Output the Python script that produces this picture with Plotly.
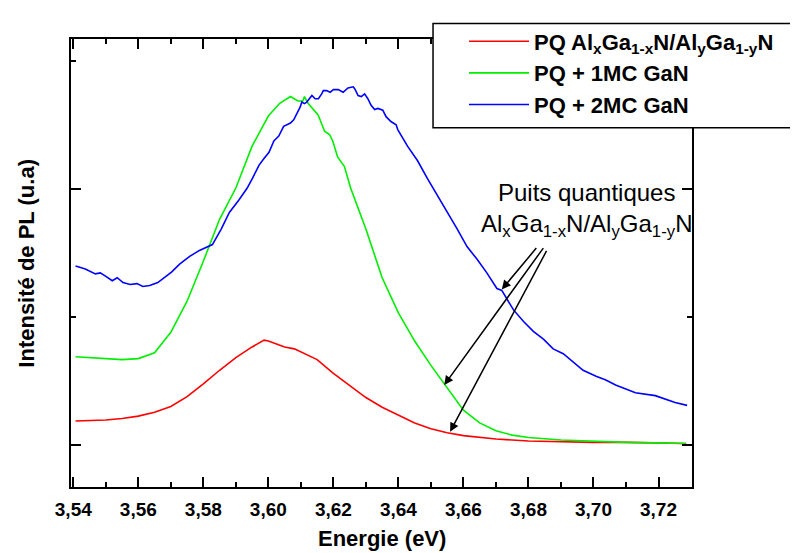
import plotly.graph_objects as go

# ---------------- data (PL intensity, arbitrary units) ----------------
red_x = [3.5407, 3.545, 3.550, 3.555, 3.560, 3.565, 3.570, 3.575, 3.580, 3.585,
         3.590, 3.595, 3.5987, 3.600, 3.605, 3.608, 3.610, 3.615, 3.620, 3.625,
         3.630, 3.635, 3.640, 3.645, 3.650, 3.655, 3.660, 3.665, 3.670, 3.680,
         3.690, 3.700, 3.710, 3.720, 3.7285]
red_y = [0.190, 0.194, 0.198, 0.209, 0.228, 0.259, 0.304, 0.380, 0.479, 0.586,
         0.684, 0.768, 0.821, 0.814, 0.768, 0.753, 0.730, 0.669, 0.562, 0.464,
         0.373, 0.297, 0.236, 0.175, 0.129, 0.099, 0.076, 0.061, 0.049, 0.034,
         0.027, 0.023, 0.023, 0.019, 0.015]

green_x = [3.5407, 3.545, 3.550, 3.555, 3.560, 3.565, 3.570, 3.575, 3.580, 3.585,
           3.590, 3.595, 3.600, 3.6035, 3.6068, 3.6091, 3.6106, 3.6111, 3.6122, 3.6137,
           3.6153, 3.6173, 3.6188, 3.6198, 3.6213, 3.6234, 3.6253, 3.630, 3.635, 3.640,
           3.645, 3.650, 3.655, 3.660, 3.665, 3.670, 3.675, 3.680, 3.690, 3.700,
           3.710, 3.720, 3.7285]
green_y = [0.692, 0.684, 0.677, 0.669, 0.677, 0.722, 0.882, 1.125, 1.437, 1.764,
           2.008, 2.335, 2.570, 2.669, 2.722, 2.687, 2.687, 2.722, 2.669, 2.624,
           2.578, 2.451, 2.426, 2.375, 2.251, 2.175, 2.008, 1.688, 1.308, 1.034,
           0.814, 0.624, 0.449, 0.274, 0.175, 0.114, 0.080, 0.061, 0.042, 0.030,
           0.023, 0.019, 0.015]

blue_x = [3.5407, 3.5437, 3.5468, 3.5483, 3.5498, 3.5520, 3.5535, 3.5553, 3.5575, 3.5596,
          3.5614, 3.5635, 3.5660, 3.5681, 3.5703, 3.5727, 3.5758, 3.5788, 3.5813, 3.5828,
          3.5855, 3.5880, 3.5910, 3.5935, 3.5951, 3.5971, 3.5986, 3.6002, 3.6017, 3.6032,
          3.6042, 3.6047, 3.6068, 3.6078, 3.6088, 3.6098, 3.6103, 3.6111, 3.6118, 3.6129,
          3.6134, 3.6144, 3.6154, 3.6164, 3.6169, 3.6179, 3.6190, 3.6200, 3.6215, 3.6230,
          3.6235, 3.6245, 3.6261, 3.6266, 3.6276, 3.6286, 3.6296, 3.6306, 3.6316, 3.6327,
          3.6337, 3.6352, 3.6362, 3.6377, 3.6393, 3.6398, 3.6428, 3.6459, 3.6489, 3.6520,
          3.6550, 3.6581, 3.6611, 3.6642, 3.6672, 3.6681, 3.6703, 3.6718, 3.6733, 3.6754,
          3.6785, 3.6815, 3.6846, 3.6876, 3.6907, 3.6937, 3.6968, 3.7008, 3.7038, 3.7068,
          3.7129, 3.7190, 3.7251, 3.7288]
blue_y = [1.399, 1.376, 1.338, 1.346, 1.323, 1.285, 1.308, 1.270, 1.255, 1.262,
          1.240, 1.247, 1.270, 1.308, 1.354, 1.414, 1.475, 1.521, 1.551, 1.567,
          1.688, 1.817, 1.916, 2.008, 2.084, 2.185, 2.236, 2.287, 2.375, 2.413,
          2.464, 2.489, 2.515, 2.540, 2.591, 2.641, 2.679, 2.667, 2.679, 2.717,
          2.730, 2.705, 2.705, 2.743, 2.768, 2.768, 2.755, 2.776, 2.776, 2.755,
          2.768, 2.789, 2.798, 2.781, 2.730, 2.722, 2.743, 2.705, 2.654, 2.621,
          2.629, 2.616, 2.565, 2.527, 2.502, 2.464, 2.335, 2.221, 2.084, 1.954,
          1.817, 1.688, 1.551, 1.452, 1.346, 1.308, 1.224, 1.209, 1.148, 1.057,
          0.966, 0.890, 0.829, 0.753, 0.715, 0.654, 0.586, 0.540, 0.510, 0.471,
          0.411, 0.388, 0.335, 0.312]

names = ["PQ Al<sub>x</sub>Ga<sub>1-x</sub>N/Al<sub>y</sub>Ga<sub>1-y</sub>N",
         "PQ + 1MC GaN",
         "PQ + 2MC GaN"]
colors = ["#ff0000", "#00ee00", "#0000ff"]

FONT = "Liberation Sans, Arial, sans-serif"

fig = go.Figure()
for xs, ys, nm, col in [(red_x, red_y, names[0], colors[0]),
                        (green_x, green_y, names[1], colors[1]),
                        (blue_x, blue_y, names[2], colors[2])]:
    fig.add_trace(go.Scatter(x=xs, y=ys, mode="lines", name=nm,
                             line=dict(color=col, width=1.6)))

axis_common = dict(showline=True, linecolor="black", linewidth=2, mirror="ticks",
                   ticks="inside", tickcolor="black", tickwidth=2, ticklen=10,
                   showgrid=False, zeroline=False, automargin=False)

fig.update_xaxes(range=[3.5393, 3.7303], dtick=0.02, tick0=3.54, tickformat=".2f",
                 tickfont=dict(family=FONT, size=19, color="black", weight="bold"),
                 ticklabelstandoff=4,
                 minor=dict(dtick=0.01, tick0=3.54, ticks="inside", ticklen=5,
                            tickcolor="black", tickwidth=2),
                 **axis_common)
fig.update_yaxes(range=[-0.325, 3.171], dtick=2, tick0=0, showticklabels=False,
                 minor=dict(dtick=1, tick0=0, ticks="inside", ticklen=5,
                            tickcolor="black", tickwidth=2),
                 **axis_common)

# axis titles
fig.add_annotation(x=0.5, y=-0.116, xref="paper", yref="paper", showarrow=False,
                   text="<b>Energie (eV)</b>", yanchor="middle",
                   font=dict(family=FONT, size=22, color="black"))
fig.add_annotation(x=-0.073, y=0.5, xref="paper", yref="paper", showarrow=False,
                   text="<b>Intensité de PL (u.a)</b>", textangle=-90, xanchor="center",
                   font=dict(family=FONT, size=22, color="black"))

# legend frame
PW, PH = 621.8, 459.7
fig.add_shape(type="rect", xref="paper", yref="paper",
              x0=(433 - 70.5) / PW, x1=(794 - 70.5) / PW,
              y0=(486.7 - 118) / PH, y1=(486.7 - 11) / PH,
              line=dict(color="black", width=1.5), fillcolor="white", layer="above")

# the page body adds an 8px offset, so the figure is 8px smaller than the window
fig.update_layout(
    width=790, height=545,
    margin=dict(l=62.5, r=105.7, t=19, b=66.3),
    paper_bgcolor="white", plot_bgcolor="white",
    separators=", ",
    showlegend=True,
    legend=dict(x=(464 - 70.5) / PW, y=(486.7 - 8) / PH, xanchor="left", yanchor="top",
                bgcolor="rgba(0,0,0,0)", borderwidth=0, itemwidth=60,
                font=dict(family=FONT, size=22, color="black", weight="bold"),
                tracegroupgap=0),
    font=dict(family=FONT, color="black"),
)

# annotation text
fig.add_annotation(x=3.6977, y=1.835, xref="x", yref="y", showarrow=False,
                   text="Puits quantiques<br>Al<sub>x</sub>Ga<sub>1-x</sub>N/Al<sub>y</sub>Ga<sub>1-y</sub>N",
                   font=dict(family=FONT, size=24, color="black"), align="center")

# arrows
for (tx, ty, hx, hy) in [(3.6828, 1.551, 3.6718, 1.217),
                         (3.6849, 1.551, 3.6541, 0.471),
                         (3.6858, 1.529, 3.6559, 0.106)]:
    fig.add_annotation(x=hx, y=hy, ax=tx, ay=ty, xref="x", yref="y", axref="x", ayref="y",
                       showarrow=True, arrowhead=2, arrowsize=1.2, arrowwidth=1.5,
                       arrowcolor="black", text="")

fig.write_html("out.html")
